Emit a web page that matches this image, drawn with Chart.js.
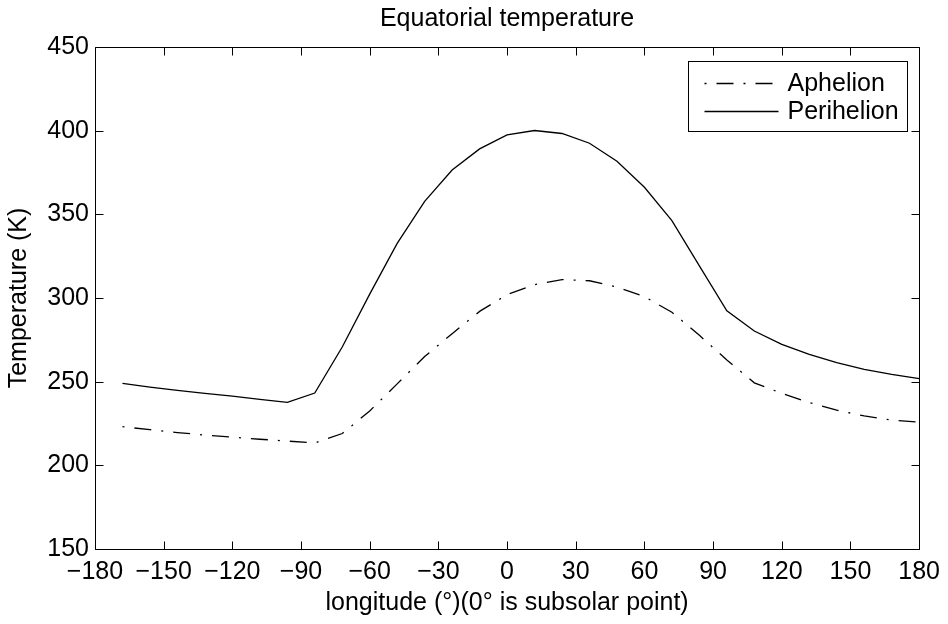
<!DOCTYPE html>
<html lang="en">
<head>
    <meta charset="UTF-8">
    <title>Equatorial temperature</title>
    <script src="https://cdn.jsdelivr.net/npm/chart.js"></script>
    <style>
        body { margin: 0; background: #fff; }
        #wrap { width: 948px; height: 624px; }
    </style>
</head>
<body>
    <div id="wrap"><canvas id="myChart" width="948" height="624"></canvas></div>

    <script>
        // longitude in degrees, 0 = subsolar point
        const longitude = [-168, -156, -144, -132, -120, -108, -96, -84, -72, -60, -48, -36, -24, -12, 0,
                           12, 24, 36, 48, 60, 72, 84, 96, 108, 120, 132, 144, 156, 168, 180];
        const aphelion = [223.1, 221.3, 219.6, 218.1, 216.8, 215.6, 214.5, 213.4, 219, 232.5, 248.7, 265, 278.7, 292, 302,
                          308, 311, 310.3, 306.6, 300.8, 291.5, 277.7, 263, 249.3, 243, 237.5, 233, 229.5, 227, 225.8];
        const perihelion = [249, 246.8, 244.8, 243, 241.3, 239.4, 237.6, 243.2, 270.7, 302.3, 332.6, 357.8, 376.5, 389.1, 397.5,
                            400.1, 398.3, 392.5, 381.7, 366.2, 346.2, 319.2, 292.3, 280.3, 272.3, 266.3, 261.4, 257.4, 254.4, 251.8];

        const xTicks = [-180, -150, -120, -90, -60, -30, 0, 30, 60, 90, 120, 150, 180];
        const yTicks = [150, 200, 250, 300, 350, 400, 450];

        Chart.defaults.font.family = '"Liberation Sans", Arial, Helvetica, sans-serif';
        Chart.defaults.color = '#000';

        function points(ys) {
            return longitude.map((x, i) => ({ x: x, y: ys[i] }));
        }

        // MATLAB-style box with inward ticks on all four sides
        const boxTicks = {
            id: 'boxTicks',
            afterDatasetsDraw(chart) {
                const ctx = chart.ctx;
                const a = chart.chartArea;
                const xs = chart.scales.x, ys = chart.scales.y;
                const L = Math.round(a.left) + 0.5, R = Math.round(a.right) + 0.5;
                const T = Math.round(a.top) + 0.5, B = Math.round(a.bottom) + 0.5;
                const tl = 8;
                ctx.save();
                ctx.strokeStyle = '#000';
                ctx.lineWidth = 1;
                ctx.beginPath();
                ctx.rect(L, T, R - L, B - T);
                xTicks.forEach(v => {
                    const px = Math.round(xs.getPixelForValue(v)) + 0.5;
                    ctx.moveTo(px, B); ctx.lineTo(px, B - tl);
                    ctx.moveTo(px, T); ctx.lineTo(px, T + tl);
                });
                yTicks.forEach(v => {
                    const py = Math.round(ys.getPixelForValue(v)) + 0.5;
                    ctx.moveTo(L, py); ctx.lineTo(L + tl, py);
                    ctx.moveTo(R, py); ctx.lineTo(R - tl, py);
                });
                ctx.stroke();
                ctx.restore();
            }
        };

        // legend box in the upper right corner of the axes
        const boxLegend = {
            id: 'boxLegend',
            afterDraw(chart) {
                const ctx = chart.ctx;
                const a = chart.chartArea;
                const x0 = Math.round(a.right) - 230.5, y0 = Math.round(a.top) + 14.5;
                const w = 219, h = 70;
                ctx.save();
                ctx.fillStyle = '#fff';
                ctx.fillRect(x0, y0, w, h);
                ctx.strokeStyle = '#000';
                ctx.lineWidth = 1;
                ctx.strokeRect(x0, y0, w, h);
                ctx.font = '25px "Liberation Sans", Arial, sans-serif';
                ctx.textBaseline = 'middle';
                ctx.fillStyle = '#000';
                chart.data.datasets.forEach((ds, i) => {
                    const cy = y0 + 22 + i * 28;
                    ctx.beginPath();
                    ctx.setLineDash(ds.borderDash || []);
                    ctx.lineWidth = ds.borderWidth;
                    ctx.strokeStyle = ds.borderColor;
                    ctx.moveTo(x0 + 16, cy);
                    ctx.lineTo(x0 + 90, cy);
                    ctx.stroke();
                    ctx.setLineDash([]);
                    ctx.fillText(ds.label, x0 + 99, cy + 1);
                });
                ctx.restore();
            }
        };

        const ctx = document.getElementById('myChart').getContext('2d');
        const myChart = new Chart(ctx, {
            type: 'line',
            data: {
                datasets: [
                    {
                        label: 'Aphelion',
                        data: points(aphelion),
                        borderColor: '#000',
                        borderWidth: 1.3,
                        borderDash: [2, 10, 17, 10],
                        pointRadius: 0,
                        fill: false,
                        tension: 0
                    },
                    {
                        label: 'Perihelion',
                        data: points(perihelion),
                        borderColor: '#000',
                        borderWidth: 1.3,
                        pointRadius: 0,
                        fill: false,
                        tension: 0
                    }
                ]
            },
            options: {
                responsive: false,
                animation: false,
                events: [],
                layout: { padding: { left: 0, right: 28, top: 0, bottom: 0 } },
                plugins: {
                    legend: { display: false },
                    tooltip: { enabled: false },
                    title: {
                        display: true,
                        text: 'Equatorial temperature',
                        fullSize: false,
                        font: { size: 25, weight: 'normal' },
                        color: '#000',
                        padding: { top: 4, bottom: 13 }
                    }
                },
                scales: {
                    x: {
                        type: 'linear',
                        min: -180,
                        max: 180,
                        afterBuildTicks: s => { s.ticks = xTicks.map(v => ({ value: v })); },
                        afterFit: s => { s.height = 75; },
                        grid: { display: false, drawTicks: false },
                        border: { display: false },
                        ticks: {
                            font: { size: 25 },
                            color: '#000',
                            padding: 8,
                            maxRotation: 0,
                            autoSkip: false,
                            callback: v => String(v).replace('-', '\u2212')
                        },
                        title: {
                            display: true,
                            text: 'longitude (°)(0° is subsolar point)',
                            font: { size: 25 },
                            color: '#000',
                            padding: { top: 0, bottom: 6 }
                        }
                    },
                    y: {
                        min: 150,
                        max: 450,
                        afterBuildTicks: s => { s.ticks = yTicks.map(v => ({ value: v })); },
                        afterFit: s => { s.width = 95; },
                        grid: { display: false, drawTicks: false },
                        border: { display: false },
                        ticks: {
                            font: { size: 25 },
                            color: '#000',
                            padding: 6,
                            autoSkip: false
                        },
                        title: {
                            display: true,
                            text: 'Temperature (K)',
                            font: { size: 25 },
                            color: '#000',
                            padding: { top: 4, bottom: 0 }
                        }
                    }
                }
            },
            plugins: [boxTicks, boxLegend]
        });
    </script>
</body>
</html>
